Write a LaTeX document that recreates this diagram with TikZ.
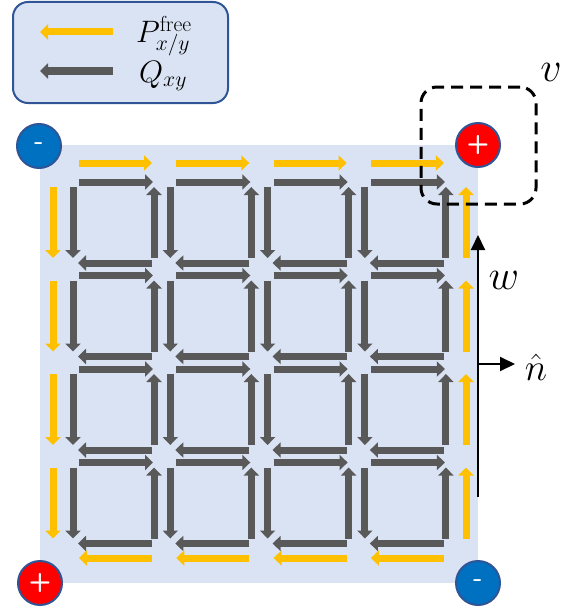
\RequirePackage{fix-cm}
\documentclass[tikz,border=0pt]{standalone}
\usetikzlibrary{arrows.meta}
\definecolor{ylw}{HTML}{FFC000}
\definecolor{gry}{HTML}{595959}
\definecolor{bgblue}{HTML}{DAE3F3}
\definecolor{edgeblue}{HTML}{2F5597}
\definecolor{plusred}{HTML}{FF0000}
\definecolor{minusblue}{HTML}{0070C0}
\begin{document}
\begin{tikzpicture}[x=1pt,y=-1pt,
  flow/.style={line width=7pt,-{Triangle[width=15pt,length=8pt]}},
  yflow/.style={flow,draw=ylw},
  gflow/.style={flow,draw=gry},
  charge/.style={circle,minimum size=44pt,inner sep=0pt,line width=2pt,draw=edgeblue,text=white,font=\fontsize{26}{30}\selectfont\sffamily\bfseries},
  plus/.style={charge,fill=plusred},
  minus/.style={charge,fill=minusblue},
  blackarrow/.style={line width=2pt,draw=black,-{Triangle[width=14pt,length=15pt]}},
  biglabel/.style={font=\fontsize{42}{48}\selectfont},
  leglabel/.style={font=\fontsize{31}{36}\selectfont,anchor=base west,inner sep=0pt}
]
\useasboundingbox (0,0) rectangle (581,610);

% legend
\node[draw=edgeblue,fill=bgblue,line width=2pt,rounded corners=15pt,minimum width=215pt,minimum height=101pt,inner sep=0pt] (legend) at (120.5,52.5) {};
\coordinate (ly1) at (113,32); \coordinate (ly2) at (40,32);
\coordinate (lg1) at (113,71); \coordinate (lg2) at (40,71);
\draw[yflow] (ly1) -- (ly2);
\draw[gflow] (lg1) -- (lg2);
\node[leglabel] (lp) at (136,43) {$P^{\mathrm{free}}_{x/y}$};
\node[leglabel] (lq) at (139,82) {$Q_{xy}$};

% plate
\node[fill=bgblue,minimum size=438pt,inner sep=0pt] (plate) at (259,364) {};

% cells
\foreach \i in {0,...,3}{
  \foreach \j in {0,...,3}{
    \draw[gflow] ({79+97.3*\i},{182+93.5*\j}) -- ({153+97.3*\i},{182+93.5*\j});
    \draw[gflow] ({154+97.3*\i},{258+93.5*\j}) -- ({154+97.3*\i},{187+93.5*\j});
    \draw[gflow] ({73+97.3*\i},{187+93.5*\j}) -- ({73+97.3*\i},{258+93.5*\j});
    \draw[gflow] ({152+97.3*\i},{263+93.5*\j}) -- ({78+97.3*\i},{263+93.5*\j});
  }
  \draw[yflow] ({79+97.3*\i},163) -- ({152+97.3*\i},163);
  \draw[yflow] ({152+97.3*\i},558) -- ({79+97.3*\i},558);
  \draw[yflow] (53,{187+93.5*\i}) -- (53,{258+93.5*\i});
  \draw[yflow] (466,{258+93.5*\i}) -- (466,{187+93.5*\i});
}

% charges
\node[minus] (mTL) at (39,146) {-};
\node[plus] (pTR) at (478,145) {+};
\node[plus] (pBL) at (40,583) {+};
\node[minus] (mBR) at (478,583) {-};

% w and n arrows
\coordinate (wbot) at (478,497);
\coordinate (wtop) at (478,235);
\coordinate (nfrom) at (478,364);
\coordinate (nto) at (515,364);
\draw[blackarrow] (wbot) -- (wtop);
\draw[blackarrow] (nfrom) -- (nto);
\node[biglabel] (wlab) at (504,280) {$w$};
\node[font=\fontsize{38}{44}\selectfont] (nlab) at (536,367) {$\hat{n}$};

% dashed box v
\node[draw=black,line width=3pt,dash pattern=on 12pt off 7pt,rounded corners=16pt,minimum width=115pt,minimum height=117pt,inner sep=0pt] (vbox) at (478.5,145.5) {};
\node[biglabel] (vlab) at (551,72) {$v$};
\end{tikzpicture}
\end{document}
